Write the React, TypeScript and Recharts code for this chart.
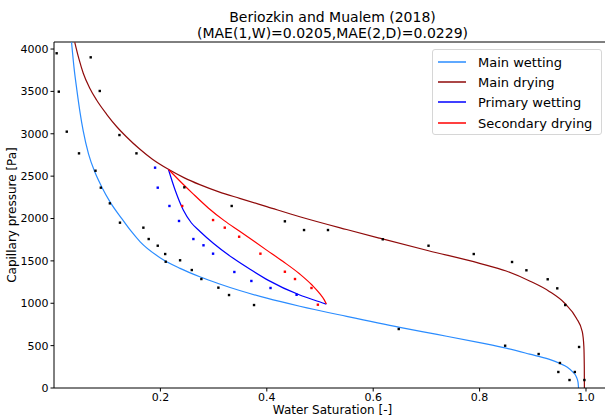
import * as React from "react";
import {
  ComposedChart,
  Line,
  Scatter,
  XAxis,
  YAxis,
  ReferenceLine,
} from "recharts";

type Pt = { x: number; y: number };

// fitted curves (saturation, capillary pressure)
const mainWetting: Pt[] = [
  { x: 0.033, y: 4080 }, { x: 0.038, y: 3760 }, { x: 0.043, y: 3516 },
  { x: 0.049, y: 3250 }, { x: 0.055, y: 3030 }, { x: 0.065, y: 2760 },
  { x: 0.077, y: 2545 }, { x: 0.09, y: 2370 }, { x: 0.105, y: 2200 },
  { x: 0.127, y: 2002 }, { x: 0.145, y: 1850 }, { x: 0.162, y: 1725 },
  { x: 0.2, y: 1535 }, { x: 0.237, y: 1412 }, { x: 0.274, y: 1313 },
  { x: 0.31, y: 1230 }, { x: 0.349, y: 1150 }, { x: 0.4, y: 1060 },
  { x: 0.462, y: 965 }, { x: 0.55, y: 845 }, { x: 0.65, y: 715 },
  { x: 0.72, y: 632 }, { x: 0.8, y: 535 }, { x: 0.85, y: 470 },
  { x: 0.894, y: 400 }, { x: 0.93, y: 340 }, { x: 0.95, y: 292 },
  { x: 0.965, y: 245 }, { x: 0.975, y: 190 }, { x: 0.982, y: 130 },
  { x: 0.985, y: 70 }, { x: 0.986, y: 0 },
];

const mainDrying: Pt[] = [
  { x: 0.039, y: 4080 }, { x: 0.047, y: 3880 }, { x: 0.055, y: 3714 },
  { x: 0.067, y: 3540 }, { x: 0.08, y: 3398 }, { x: 0.099, y: 3230 },
  { x: 0.118, y: 3083 }, { x: 0.136, y: 2965 }, { x: 0.161, y: 2820 },
  { x: 0.185, y: 2700 }, { x: 0.215, y: 2581 }, { x: 0.245, y: 2480 },
  { x: 0.274, y: 2400 }, { x: 0.31, y: 2315 }, { x: 0.349, y: 2238 },
  { x: 0.4, y: 2140 }, { x: 0.462, y: 2021 }, { x: 0.55, y: 1870 },
  { x: 0.612, y: 1768 }, { x: 0.704, y: 1620 }, { x: 0.8, y: 1471 },
  { x: 0.85, y: 1380 }, { x: 0.895, y: 1260 }, { x: 0.931, y: 1140 },
  { x: 0.96, y: 1000 }, { x: 0.982, y: 823 }, { x: 0.993, y: 665 },
  { x: 0.996, y: 488 }, { x: 0.9968, y: 250 }, { x: 0.997, y: 0 },
];

const primaryWetting: Pt[] = [
  { x: 0.215, y: 2581 }, { x: 0.228, y: 2330 }, { x: 0.243, y: 2100 },
  { x: 0.258, y: 1950 }, { x: 0.274, y: 1850 }, { x: 0.3, y: 1705 },
  { x: 0.337, y: 1530 }, { x: 0.37, y: 1395 }, { x: 0.403, y: 1270 },
  { x: 0.462, y: 1097 }, { x: 0.49, y: 1035 }, { x: 0.512, y: 990 },
];

const secondaryDrying: Pt[] = [
  { x: 0.215, y: 2581 }, { x: 0.237, y: 2440 }, { x: 0.26, y: 2300 },
  { x: 0.29, y: 2125 }, { x: 0.32, y: 1975 }, { x: 0.349, y: 1850 },
  { x: 0.399, y: 1630 }, { x: 0.43, y: 1495 }, { x: 0.462, y: 1345 },
  { x: 0.485, y: 1215 }, { x: 0.5, y: 1110 }, { x: 0.508, y: 1040 },
  { x: 0.512, y: 990 },
];

// measured points
const mainMeasured: Pt[] = [
  { x: 0.005, y: 3950 }, { x: 0.069, y: 3902 }, { x: 0.009, y: 3497 },
  { x: 0.086, y: 3505 }, { x: 0.024, y: 3025 }, { x: 0.123, y: 2985 },
  { x: 0.047, y: 2769 }, { x: 0.155, y: 2769 }, { x: 0.078, y: 2564 },
  { x: 0.088, y: 2364 }, { x: 0.245, y: 2368 }, { x: 0.105, y: 2179 },
  { x: 0.334, y: 2148 }, { x: 0.124, y: 1951 }, { x: 0.168, y: 1892 },
  { x: 0.178, y: 1758 }, { x: 0.195, y: 1679 }, { x: 0.209, y: 1581 },
  { x: 0.21, y: 1490 }, { x: 0.237, y: 1507 }, { x: 0.259, y: 1392 },
  { x: 0.277, y: 1286 }, { x: 0.309, y: 1184 }, { x: 0.329, y: 1097 },
  { x: 0.434, y: 1967 }, { x: 0.47, y: 1864 }, { x: 0.515, y: 1864 },
  { x: 0.618, y: 1755 }, { x: 0.376, y: 979 }, { x: 0.648, y: 696 },
  { x: 0.704, y: 1679 }, { x: 0.789, y: 1581 }, { x: 0.861, y: 1487 },
  { x: 0.888, y: 1389 }, { x: 0.928, y: 1283 }, { x: 0.946, y: 1176 },
  { x: 0.961, y: 979 }, { x: 0.987, y: 484 }, { x: 0.848, y: 499 },
  { x: 0.911, y: 401 }, { x: 0.951, y: 295 }, { x: 0.948, y: 189 },
  { x: 0.979, y: 189 }, { x: 0.969, y: 94 }, { x: 0.997, y: 94 },
];

const primaryMeasured: Pt[] = [
  { x: 0.19, y: 2600 }, { x: 0.195, y: 2364 }, { x: 0.217, y: 2148 },
  { x: 0.235, y: 1971 }, { x: 0.262, y: 1758 }, { x: 0.281, y: 1684 },
  { x: 0.299, y: 1585 }, { x: 0.339, y: 1369 }, { x: 0.371, y: 1263 },
  { x: 0.407, y: 1180 }, { x: 0.456, y: 1100 },
];

const secondaryMeasured: Pt[] = [
  { x: 0.241, y: 2148 }, { x: 0.299, y: 1982 }, { x: 0.321, y: 1892 },
  { x: 0.348, y: 1785 }, { x: 0.388, y: 1585 }, { x: 0.434, y: 1372 },
  { x: 0.453, y: 1286 }, { x: 0.484, y: 1180 }, { x: 0.496, y: 983 },
];

const xTicks = [0.2, 0.4, 0.6, 0.8, 1.0];
const yTicks = [0, 500, 1000, 1500, 2000, 2500, 3000, 3500, 4000];

const X_MAX = 1.047;
const Y_MAX = 4083;

const legendItems = [
  { label: "Main wetting", color: "#2a8cff" },
  { label: "Main drying", color: "#8f0a0a" },
  { label: "Primary wetting", color: "#0000ff" },
  { label: "Secondary drying", color: "#ff0000" },
];

const FONT = "DejaVu Sans, sans-serif";

const dotShape = (fill: string) => (props: any) =>
  <rect x={props.cx - 1.2} y={props.cy - 1.2} width={2.4} height={2.4} fill={fill} />;

export default function App() {
  const tick = { fontSize: 11, fill: "#000", fontFamily: FONT };
  return (
    <div
      style={{
        position: "absolute",
        left: 0,
        top: 0,
        width: 605,
        height: 419,
        overflow: "hidden",
        background: "#fff",
        fontFamily: FONT,
      }}
    >
      <ComposedChart
        width={620}
        height={419}
        margin={{ top: 42, right: 9, bottom: 0, left: 0 }}
      >
        <XAxis
          type="number"
          dataKey="x"
          domain={[0, X_MAX]}
          ticks={xTicks}
          allowDataOverflow
          height={31}
          tick={tick}
          tickSize={3.5}
          tickFormatter={(v: number) => v.toFixed(1)}
          axisLine={{ stroke: "#000", strokeWidth: 1 }}
          tickLine={{ stroke: "#000" }}
        />
        <YAxis
          type="number"
          dataKey="y"
          domain={[0, Y_MAX]}
          ticks={yTicks}
          allowDataOverflow
          width={54}
          tick={tick}
          tickSize={3.5}
          axisLine={{ stroke: "#000", strokeWidth: 1 }}
          tickLine={{ stroke: "#000" }}
        />
        <ReferenceLine y={Y_MAX} stroke="#000" strokeWidth={1} ifOverflow="extendDomain" />
        <Line data={mainWetting} dataKey="y" type="monotone" stroke="#2a8cff" strokeWidth={1.2} dot={false} isAnimationActive={false} />
        <Line data={mainDrying} dataKey="y" type="monotone" stroke="#8f0a0a" strokeWidth={1.2} dot={false} isAnimationActive={false} />
        <Line data={primaryWetting} dataKey="y" type="monotone" stroke="#0000ff" strokeWidth={1.2} dot={false} isAnimationActive={false} />
        <Line data={secondaryDrying} dataKey="y" type="monotone" stroke="#ff0000" strokeWidth={1.2} dot={false} isAnimationActive={false} />
        <Scatter data={mainMeasured} dataKey="y" shape={dotShape("#000")} isAnimationActive={false} />
        <Scatter data={primaryMeasured} dataKey="y" shape={dotShape("#0000ff")} isAnimationActive={false} />
        <Scatter data={secondaryMeasured} dataKey="y" shape={dotShape("#ff0000")} isAnimationActive={false} />
      </ComposedChart>

      <div style={{ position: "absolute", left: 54, width: 557, top: 9, textAlign: "center", fontSize: 14, lineHeight: "16px" }}>
        <div>Beriozkin and Mualem (2018)</div>
        <div>(MAE(1,W)=0.0205,MAE(2,D)=0.0229)</div>
      </div>

      <div style={{ position: "absolute", left: 54, width: 557, top: 404, textAlign: "center", fontSize: 12, lineHeight: "13px" }}>
        Water Saturation [-]
      </div>

      <div
        style={{
          position: "absolute",
          left: 12,
          top: 215,
          transform: "translate(-50%, -50%) rotate(-90deg)",
          whiteSpace: "nowrap",
          fontSize: 12,
          lineHeight: "13px",
        }}
      >
        Capillary pressure [Pa]
      </div>

      <div
        style={{
          position: "absolute",
          left: 432,
          top: 49,
          width: 170,
          height: 86,
          border: "1px solid #d6d6d6",
          borderRadius: 3,
          background: "rgba(255,255,255,0.8)",
          boxSizing: "border-box",
        }}
      >
        {legendItems.map((it, i) => (
          <div
            key={it.label}
            style={{ position: "absolute", left: 0, top: Math.round(2 + i * 20.2), height: 20, display: "flex", alignItems: "center", whiteSpace: "nowrap" }}
          >
            <svg width={33} height={4} style={{ display: "block" }}>
              <line x1={5} x2={33} y1={2} y2={2} stroke={it.color} strokeWidth={1.5} />
            </svg>
            <span style={{ marginLeft: 12, fontSize: 13 }}>{it.label}</span>
          </div>
        ))}
      </div>
    </div>
  );
}
